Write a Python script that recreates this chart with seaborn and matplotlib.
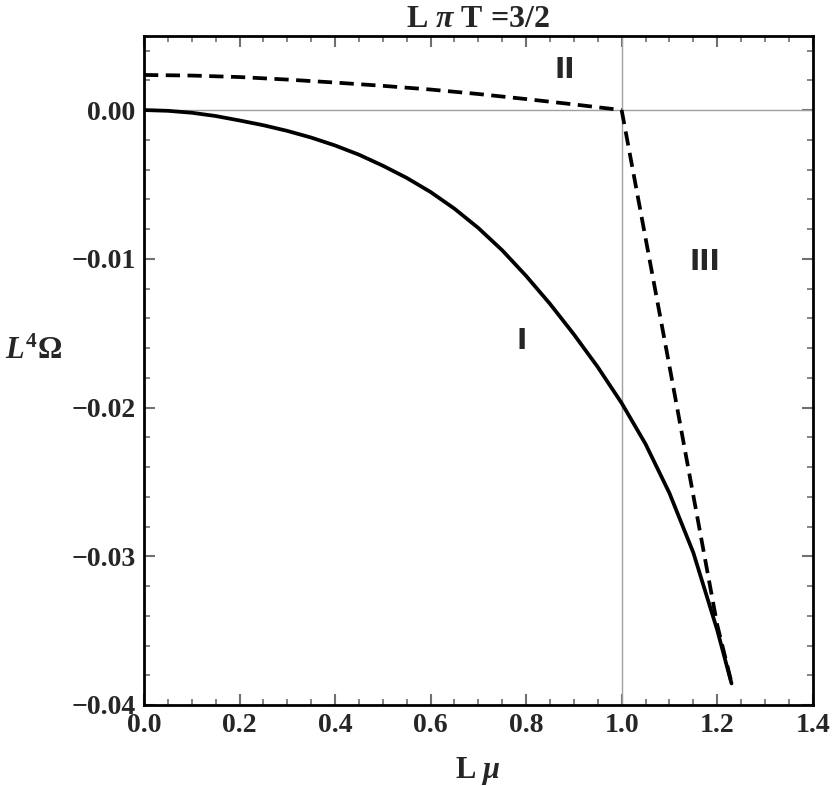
import numpy as np
import pandas as pd
import matplotlib
matplotlib.use("Agg")
import matplotlib.pyplot as plt
from matplotlib.ticker import MultipleLocator, FuncFormatter
import seaborn as sns

# Phase I (solid)
mu_I = [0.0, 0.05, 0.1, 0.15, 0.2, 0.25, 0.3, 0.35, 0.4, 0.45, 0.5, 0.55, 0.6,
        0.65, 0.7, 0.75, 0.8, 0.85, 0.9, 0.95, 1.0, 1.05, 1.1, 1.15, 1.2, 1.23]
om_I = [0.0, -0.00005, -0.00018, -0.0004, -0.0007, -0.00102, -0.0014, -0.00185,
        -0.00238, -0.0030, -0.00374, -0.00456, -0.00551, -0.00663, -0.00793,
        -0.00943, -0.01115, -0.01303, -0.01508, -0.01728, -0.0197, -0.02245,
        -0.02575, -0.02975, -0.03495, -0.03855]
# Phase II (dashed)
mu_II = [0.0, 0.1, 0.2, 0.3, 0.4, 0.5, 0.6, 0.7, 0.8, 0.9, 1.0]
om_II = [0.00236, 0.00232, 0.00222, 0.00205, 0.00185, 0.00163, 0.00138, 0.00108,
         0.00074, 0.00038, 0.0]
# Phase III (dashed)
mu_III = [1.0, 1.05, 1.1, 1.15, 1.2, 1.23]
om_III = [0.0, -0.0086, -0.0172, -0.0259, -0.0346, -0.0385]

x_ticks = [0.0, 0.2, 0.4, 0.6, 0.8, 1.0, 1.2, 1.4]
y_ticks = [0.0, -0.01, -0.02, -0.03, -0.04]

sns.set_style("ticks")
plt.rcParams['font.family'] = ['Liberation Serif', 'DejaVu Serif']
plt.rcParams['mathtext.fontset'] = 'custom'
plt.rcParams['mathtext.rm'] = 'Liberation Serif:bold'
plt.rcParams['mathtext.it'] = 'Liberation Serif:italic:bold'
plt.rcParams['mathtext.bf'] = 'Liberation Serif:bold'

fig = plt.figure(figsize=(8.34, 7.86), dpi=100)
ax = fig.add_axes([144/834, 1-705/786, (812.7-144)/834, (705-35.7)/786])

ax.axhline(0, color='#a0a0a0', lw=1.0, zorder=1)
ax.axvline(1.0, color='#a0a0a0', lw=1.0, zorder=1)

dI = pd.DataFrame({'mu': mu_I, 'om': om_I})
dII = pd.DataFrame({'mu': mu_II, 'om': om_II})
dIII = pd.DataFrame({'mu': mu_III, 'om': om_III})

sns.lineplot(data=dI, x='mu', y='om', ax=ax, color='black', lw=2.7, sort=False, estimator=None)
sns.lineplot(data=dII, x='mu', y='om', ax=ax, color='black', lw=2.7, sort=False, estimator=None,
             linestyle=(0, (3.8, 2.0)))
sns.lineplot(data=dIII, x='mu', y='om', ax=ax, color='black', lw=2.7, sort=False, estimator=None,
             linestyle=(0, (3.8, 2.0)))

ax.set_xlim(0, 1.4)
ax.set_ylim(-0.04, 0.005)
ax.set_xticks(x_ticks)
ax.set_yticks(y_ticks)
ax.xaxis.set_minor_locator(MultipleLocator(0.05))
ax.yaxis.set_minor_locator(MultipleLocator(0.002))
ax.xaxis.set_major_formatter(FuncFormatter(lambda v, p: f"{v:.1f}"))
ax.yaxis.set_major_formatter(FuncFormatter(lambda v, p: f"{v:.2f}".replace('-', '\u2212') if abs(v) > 1e-12 else "0.00"))

for s in ax.spines.values():
    s.set_linewidth(2.0)
    s.set_color('black')
ax.tick_params(which='both', direction='in', top=True, right=True, color='#707070')
ax.tick_params(which='major', length=8, width=1.5, labelsize=20, pad=6)
ax.tick_params(which='minor', length=4, width=1.2)
for lab in ax.get_xticklabels() + ax.get_yticklabels():
    lab.set_fontweight('bold')

ax.set_xlabel('L $\\mu$', fontsize=22, fontweight='bold', labelpad=12)
ax.set_ylabel('$L^4\\Omega$', fontsize=22, rotation=0, labelpad=0, va='center')
ax.yaxis.set_label_coords(-0.165, 0.528)
ax.set_title('L $\\pi$ T =3/2', fontsize=23, fontweight='bold', pad=6)

ax.text(0.88, 0.0027, 'II', fontsize=20, fontweight='bold', ha='center', va='center', family='DejaVu Sans')
ax.text(1.175, -0.0102, 'III', fontsize=20, fontweight='bold', ha='center', va='center', family='DejaVu Sans')
ax.text(0.79, -0.0155, 'I', fontsize=20, fontweight='bold', ha='center', va='center', family='DejaVu Sans')

fig.savefig('out.png', dpi=100)
